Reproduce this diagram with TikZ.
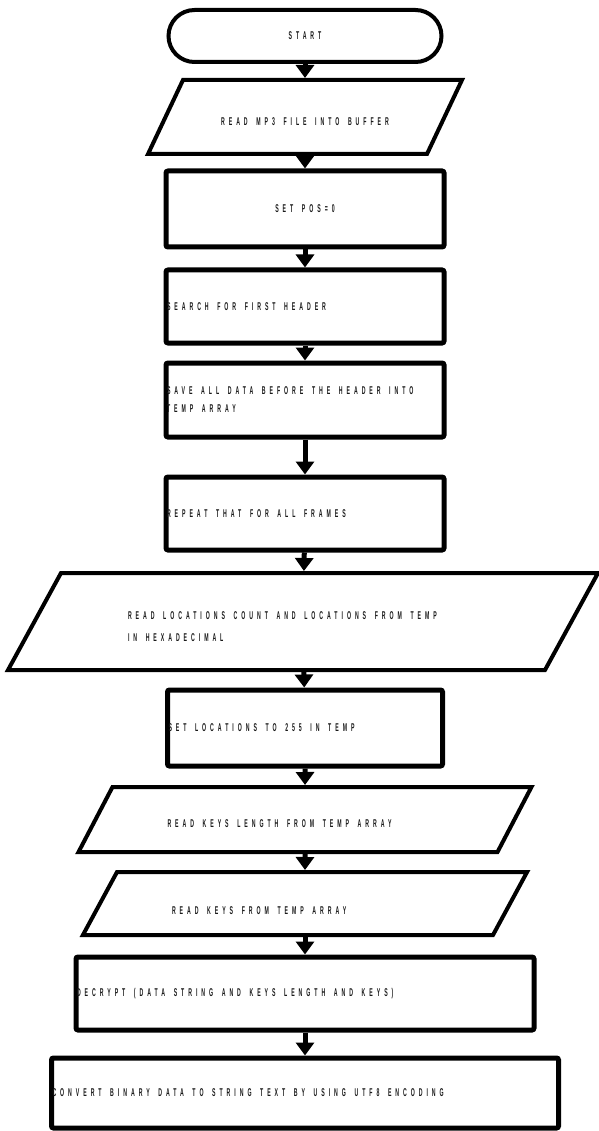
\documentclass[tikz,border=0pt]{standalone}
\usepackage{fontspec}
\setmainfont{Liberation Sans}
\newfontfamily\chartfont[FakeStretch=0.46,LetterSpace=35]{Liberation Sans}
\newcommand{\flowtext}{\chartfont\bfseries\fontsize{11.3}{18}\selectfont}
% wide gap between the words of a label
\ExplSyntaxOn
\NewDocumentCommand{\spaced}{m}
  {
    \seq_set_split:Nnn \l_tmpa_seq { ~ } {#1}
    \seq_use:Nn \l_tmpa_seq { \hspace{8.6pt} }
  }
\ExplSyntaxOff
\usepackage{tikz}
\usetikzlibrary{arrows.meta,shapes.geometric}
\tikzset{
  term/.style={draw, line width=4pt, rounded corners=26pt, minimum height=52pt, inner sep=0pt, align=center},
  proc/.style={draw, line width=5pt, rounded corners=2pt, inner xsep=1pt, inner ysep=0pt, align=left},
  io/.style={draw, trapezium, line width=4pt, inner ysep=0pt, align=left},
  arr/.style={-{Triangle[width=18pt,length=13pt]}, line width=5pt}}

\begin{document}
\begin{tikzpicture}[x=1pt, y=-1pt, font=\flowtext, every node/.append style={text=black!90}]
  \useasboundingbox (0,0) rectangle (598,1131);
  % top part
  \node[term, minimum width=273pt] (start) at (305,36) {START};
  \node[io, trapezium left angle=64.7, trapezium right angle=115.3, text height=46pt, text depth=28pt, text width=230pt, inner xsep=7pt, align=center] (readmp) at (305,117) {\spaced{READ MP3 FILE INTO BUFFER}};
  \node[proc, text width=276pt, minimum height=76pt, align=center] (setpos) at (305,209) {\spaced{SET POS=0}};
  \node[proc, text width=276pt, minimum height=73pt] (search) at (305,306.5) {\spaced{SEARCH FOR FIRST HEADER}};
  \node[proc, text width=276pt, minimum height=74pt] (save) at (305,400) {\spaced{SAVE ALL DATA BEFORE THE HEADER INTO}\\\spaced{TEMP ARRAY}};
  \node[proc, text width=276pt, minimum height=73pt] (repeat) at (305,513.5) {\spaced{REPEAT THAT FOR ALL FRAMES}};
  % locations and keys
  \node[io, trapezium left angle=61.35, trapezium right angle=118.65, text height=46pt, text depth=51pt, text width=350pt, inner xsep=67pt] (locs) at (303,621.5) {\spaced{READ LOCATIONS COUNT AND LOCATIONS FROM TEMP}\\[4pt]\spaced{IN HEXADECIMAL}};
  \node[proc, text width=273pt, minimum height=76pt] (setlocs) at (305,728) {\spaced{SET LOCATIONS TO 255 IN TEMP}};
  \node[io, trapezium left angle=62.4, trapezium right angle=117.6, text height=40pt, text depth=25pt, text width=275pt, inner xsep=55pt] (keylen) at (305,819.5) {\spaced{READ KEYS LENGTH FROM TEMP ARRAY}};
  \node[io, trapezium left angle=61.6, trapezium right angle=118.4, text height=42pt, text depth=21pt, text width=266pt, inner xsep=55pt] (keys) at (305,903.5) {\spaced{READ KEYS FROM TEMP ARRAY}};
  % decrypt and convert
  \node[proc, text width=456pt, minimum height=73pt] (decrypt) at (305,993.5) {\spaced{DECRYPT (DATA STRING AND KEYS LENGTH AND KEYS)}};
  \node[proc, text width=505pt, minimum height=70pt] (convert) at (305,1093) {\spaced{CONVERT BINARY DATA TO STRING TEXT BY USING UTF8 ENCODING}};
  \draw[arr] (start) -- (readmp); \draw[arr] (readmp) -- (setpos); \draw[arr] (setpos) -- (search);
  \draw[arr] (search) -- (save); \draw[arr] (save) -- (repeat); \draw[arr] (repeat) -- (locs);
  \draw[arr] (locs) -- (setlocs); \draw[arr] (setlocs) -- (keylen); \draw[arr] (keylen) -- (keys);
  \draw[arr] (keys) -- (decrypt); \draw[arr] (decrypt) -- (convert);
\end{tikzpicture}
\end{document}
